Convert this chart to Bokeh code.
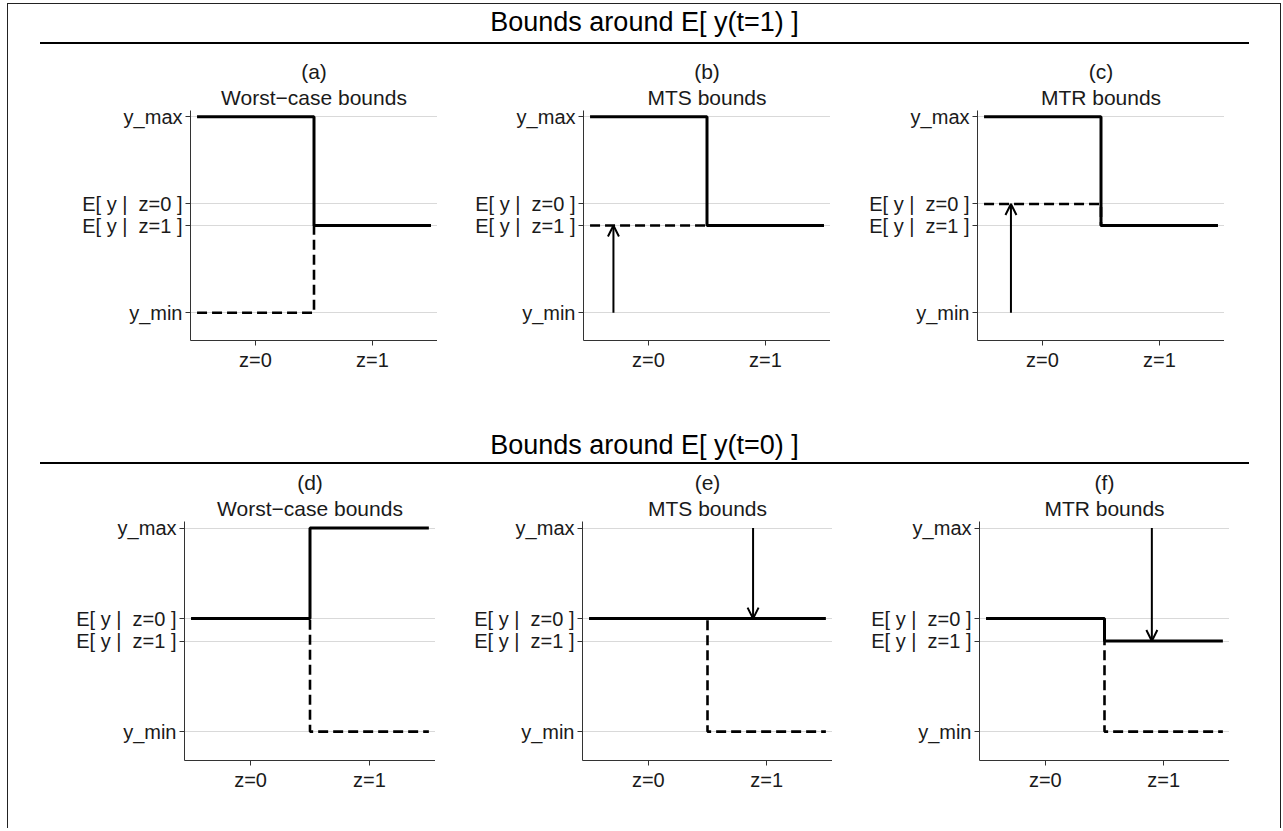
from bokeh.plotting import figure
from bokeh.models import FixedTicker, Arrow, OpenHead, Title, Div, Range1d
from bokeh.layouts import row, column
from bokeh.embed import file_html
from bokeh.resources import INLINE

# ---------------- data ----------------
categories = ["z=0", "z=1"]
y_ticks = [0.0, 0.445, 0.555, 1.0]
y_tick_labels = ["y_min", "E[ y |\u00a0 z=1 ]", "E[ y |\u00a0 z=0 ]", "y_max"]

section_titles = ["Bounds around E[ y(t=1) ]", "Bounds around E[ y(t=0) ]"]
panel_letters = ["(a)", "(b)", "(c)", "(d)", "(e)", "(f)"]
panel_names = ["Worst\u2212case bounds", "MTS bounds", "MTR bounds",
               "Worst\u2212case bounds", "MTS bounds", "MTR bounds"]

# upper bound (solid) and lower bound (dashed) for z=0, z=1
upper_a = [1.0, 0.445]
lower_a = [0.0, 0.445]
upper_b = [1.0, 0.445]
lower_b = [0.445, 0.445]
upper_c = [1.0, 0.445]
lower_c = [0.555, 0.445]
upper_d = [0.555, 1.0]
lower_d = [0.555, 0.0]
upper_e = [0.555, 0.555]
lower_e = [0.555, 0.0]
upper_f = [0.555, 0.445]
lower_f = [0.555, 0.0]

uppers = [upper_a, upper_b, upper_c, upper_d, upper_e, upper_f]
lowers = [lower_a, lower_b, lower_c, lower_d, lower_e, lower_f]

# arrows (x position, start value, end value); None = no arrow
arrow_x = [None, 0.70, 0.73, None, 1.885, 1.90]
arrow_from = [None, 0.0, 0.0, None, 1.0, 1.0]
arrow_to = [None, 0.445, 0.555, None, 0.555, 0.445]

FONT = "Liberation Sans"
TXT = "#1a1a1a"


def steps(vals):
    xs, ys = [], []
    for i, v in enumerate(vals):
        pos = i + 1
        xs += [pos - 0.5, pos + 0.5]
        ys += [v, v]
    return xs, ys


def panel(k, width, left, frame_w, top, frame_h, bottom):
    p = figure(width=width, height=top + frame_h + bottom,
               x_range=Range1d(0.444, 2.556), y_range=Range1d(-0.142, 1.032),
               output_backend="svg", toolbar_location=None, title=None,
               min_border_left=left, min_border_right=width - left - frame_w,
               min_border_top=top, min_border_bottom=bottom)
    p.outline_line_color = None
    p.background_fill_color = "white"
    p.border_fill_color = "white"
    p.xgrid.grid_line_color = None
    p.ygrid.grid_line_color = "#d9d9d9"
    p.ygrid.grid_line_width = 1

    p.xaxis.ticker = FixedTicker(ticks=[i + 1 for i in range(len(categories))])
    p.xaxis.major_label_overrides = {i + 1: c for i, c in enumerate(categories)}
    p.yaxis.ticker = FixedTicker(ticks=y_ticks)
    p.yaxis.major_label_overrides = {t: l for t, l in zip(y_ticks, y_tick_labels)}
    for ax in (p.xaxis, p.yaxis):
        ax.axis_line_color = "#333333"
        ax.axis_line_width = 1
        ax.major_tick_line_color = "#333333"
        ax.major_tick_in = 0
        ax.major_tick_out = 5
        ax.minor_tick_line_color = None
        ax.major_label_text_font = FONT
        ax.major_label_text_font_size = "20px"
        ax.major_label_text_color = TXT
        ax.major_label_standoff = 3

    lx, ly = steps(lowers[k])
    ux, uy = steps(uppers[k])
    p.line(lx, ly, line_color="black", line_width=2.6, line_dash="10 5")
    p.line(ux, uy, line_color="black", line_width=3)

    if arrow_x[k] is not None:
        p.add_layout(Arrow(end=OpenHead(size=11, line_width=2, line_color="black"),
                           x_start=arrow_x[k], y_start=arrow_from[k],
                           x_end=arrow_x[k], y_end=arrow_to[k],
                           line_width=2, line_color="black"))

    p.add_layout(Title(text=panel_names[k], align="center", text_font=FONT,
                       text_font_size="21px", text_font_style="normal",
                       text_color=TXT, standoff=4), "above")
    p.add_layout(Title(text=panel_letters[k], align="center", text_font=FONT,
                       text_font_size="21px", text_font_style="normal",
                       text_color=TXT, standoff=-3), "above")
    return p


def header(txt, height, pad_top, box_h):
    html = (f'<div style="box-sizing:border-box;margin-left:32px;width:1209px;'
            f'height:{box_h}px;padding-top:{pad_top}px;border-bottom:2px solid #000;'
            f'text-align:center;font-family:\'{FONT}\';font-size:27px;line-height:28px;'
            f'color:#000;white-space:pre;">{txt}</div>')
    return Div(text=html, width=1272, height=height, margin=0)


h1 = header(section_titles[0], 46, 4, 40)
r1 = row(panel(0, 429, 182, 247, 60, 230, 75),
         panel(1, 393, 146, 247, 60, 230, 75),
         panel(2, 394, 147, 247, 60, 230, 75))
h2 = header(section_titles[1], 55, 16, 49)
r2 = row(panel(3, 427, 176, 251, 50, 240, 68),
         panel(4, 397, 147, 250, 50, 240, 68),
         panel(5, 397, 147, 250, 50, 240, 68))

layout = column(h1, r1, h2, r2, margin=(3, 0, 0, 7),
                styles={"border-top": "1px solid #222", "border-left": "1px solid #222",
                        "border-right": "1px solid #222", "border-bottom": "none"})

with open("out.html", "w") as f:
    f.write(file_html(layout, INLINE))
